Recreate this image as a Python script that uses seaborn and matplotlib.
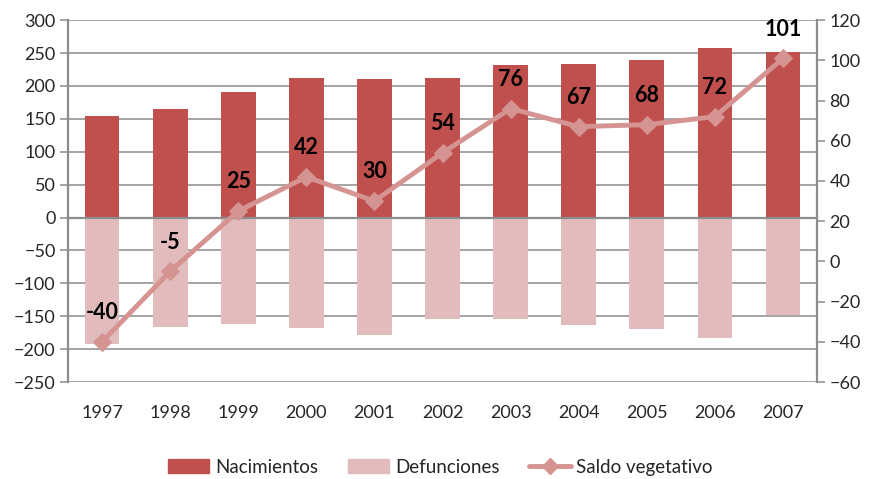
import matplotlib
matplotlib.use('Agg')
import matplotlib.pyplot as plt
import seaborn as sns
from matplotlib.patches import Patch
from matplotlib.lines import Line2D

years = ['1997', '1998', '1999', '2000', '2001', '2002', '2003', '2004', '2005', '2006', '2007']
nacimientos = [155, 165, 191, 212, 210, 212, 232, 234, 239, 258, 251]
defunciones = [-193, -167, -162, -168, -178, -155, -155, -164, -169, -183, -148]
saldo = [-40, -5, 25, 42, 30, 54, 76, 67, 68, 72, 101]

c_nac = '#C0504D'
c_def = '#E2BBBC'
c_saldo = '#D59391'
grid_c = '#8C8C8C'

sns.set_style('white')
plt.rcParams['font.family'] = ['Lato', 'DejaVu Sans']

fig = plt.figure(figsize=(8.72, 4.79), dpi=100)
ax = fig.add_axes([0.078, 0.2025, 0.859, 0.7555])

sns.barplot(x=years, y=nacimientos, color=c_nac, width=0.51, ax=ax, saturation=1,
            linewidth=0, edgecolor='none', zorder=3)
sns.barplot(x=years, y=defunciones, color=c_def, width=0.51, ax=ax, saturation=1,
            linewidth=0, edgecolor='none', zorder=3)

ax.set_ylim(-250, 300)
ax.set_yticks(range(-250, 301, 50))
ax.set_xlim(-0.5, len(years) - 0.5)
ax.yaxis.grid(True, color=grid_c, lw=1.1, zorder=0)
ax.set_axisbelow(True)
ax.spines['top'].set_visible(False)
ax.spines['bottom'].set_position(('data', 0))
ax.spines['bottom'].set_zorder(4)
for s in ['left', 'right', 'bottom']:
    ax.spines[s].set_color(grid_c)
    ax.spines[s].set_linewidth(1.6)
ax.set_xticks(range(len(years)))
ax.set_xticks([i + 0.5 for i in range(len(years) - 1)], minor=True)
ax.tick_params(axis='x', which='major', length=0, pad=135, labelsize=13)
ax.tick_params(axis='x', which='minor', length=5, width=1.2, color=grid_c, direction='out')
ax.tick_params(axis='y', length=6, width=1.1, color=grid_c, labelsize=13, pad=3, left=True)
ax.set_xlabel('')
ax.set_ylabel('')

ax2 = ax.twinx()
sns.lineplot(x=list(range(len(years))), y=saldo, ax=ax2, color=c_saldo, lw=3.5,
             marker='D', markersize=9, markeredgecolor=c_saldo, zorder=5)
ax2.set_ylim(-60, 120)
ax2.set_yticks(range(-60, 121, 20))
ax2.tick_params(axis='y', length=6, width=1.1, color=grid_c, labelsize=13, pad=3, right=True)
for s in ax2.spines.values():
    s.set_visible(False)
ax2.set_ylabel('')

for i, v in enumerate(saldo):
    ax2.annotate(str(v), (i, v), xytext=(0, 21), textcoords='offset points',
                 ha='center', va='center', fontsize=15.5, fontweight='bold', color='black')

handles = [Patch(color=c_nac), Patch(color=c_def),
           Line2D([], [], color=c_saldo, lw=3.5, marker='D', markersize=8)]
fig.legend(handles, ['Nacimientos', 'Defunciones', 'Saldo vegetativo'],
           loc='center', bbox_to_anchor=(0.505, 0.025), ncol=3, frameon=False,
           fontsize=13.5, handlelength=2.2, handleheight=0.7, columnspacing=1.6,
           handletextpad=0.3)

fig.savefig('out.png', dpi=100)
